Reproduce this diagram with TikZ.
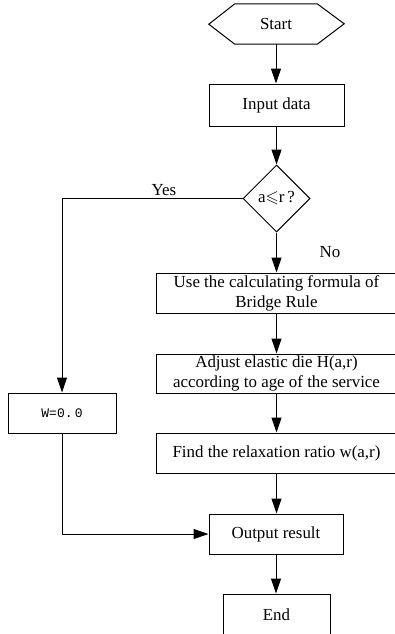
\documentclass[tikz,border=0pt]{standalone}
\usepackage{amssymb}
\usepackage{fontspec}
\setmainfont{Liberation Serif}
\newfontfamily\monof{Liberation Mono}
\usetikzlibrary{arrows.meta,shapes.geometric}
\begin{document}
\begin{tikzpicture}[x=1pt,y=-1pt,
  every node/.style={font=\fontsize{16.9}{20}\selectfont},
  box/.style={draw, line width=1pt, align=center, inner sep=0pt},
  arr/.style={-{Triangle[length=15pt,width=10pt]}, line width=1pt},
  ln/.style={line width=1pt}]
\useasboundingbox (0,0) rectangle (395,634);
\clip (0,0) rectangle (395,634);
% start hexagon
\node[inner sep=0pt, minimum width=82pt, minimum height=40pt] (start) at (276,24) {Start};
\draw[ln] (start.north west) -- (start.north east) -- ++(27,20) -- (start.south east) -- (start.south west) -- ++(-26,-20) -- cycle;
\node[box, minimum width=135pt, minimum height=42pt] (input) at (276.5,105) {Input data};
\node[box, shape=diamond, minimum width=67pt, minimum height=67pt] (dia) at (276.5,198.5) {a$\leqslant$r\,?};
\node[box, minimum width=241pt, minimum height=40pt] (b1) at (276.5,293) {Use the calculating formula of\\Bridge Rule};
\node[box, minimum width=241pt, minimum height=39pt] (b2) at (276.5,373.5) {Adjust elastic die H(a,r)\\according to age of the service};
\node[box, minimum width=241pt, minimum height=40pt] (b3) at (276.5,453) {Find the relaxation ratio w(a,r)};
\node[box, minimum width=134pt, minimum height=40pt] (out) at (276,534) {Output result};
\node[box, minimum width=107pt, minimum height=42pt] (end) at (276.5,615) {End};
\node[box, minimum width=108pt, minimum height=40pt, font=\monof\fontsize{13}{15}\selectfont] (w) at (62,413) {W=0.\,0};
\node (yes) at (164,190) {Yes};
\node (no) at (330,252) {No};
% connectors
\draw[arr] (start.south) -- (start.south |- input.north);
\draw[arr] (input.south) -- (input.south |- dia.north);
\draw[arr] (dia.south) -- (dia.south |- b1.north);
\draw[arr] (b1.south) -- (b1.south |- b2.north);
\draw[arr] (b2.south) -- (b2.south |- b3.north);
\draw[arr] (b3.south) -- (b3.south |- out.north);
\draw[arr] (out.south) -- (out.south |- end.north);
\draw[arr] (dia.west) -| (w.north);
\draw[arr] (w.south) |- (out.west);
\end{tikzpicture}
\end{document}
